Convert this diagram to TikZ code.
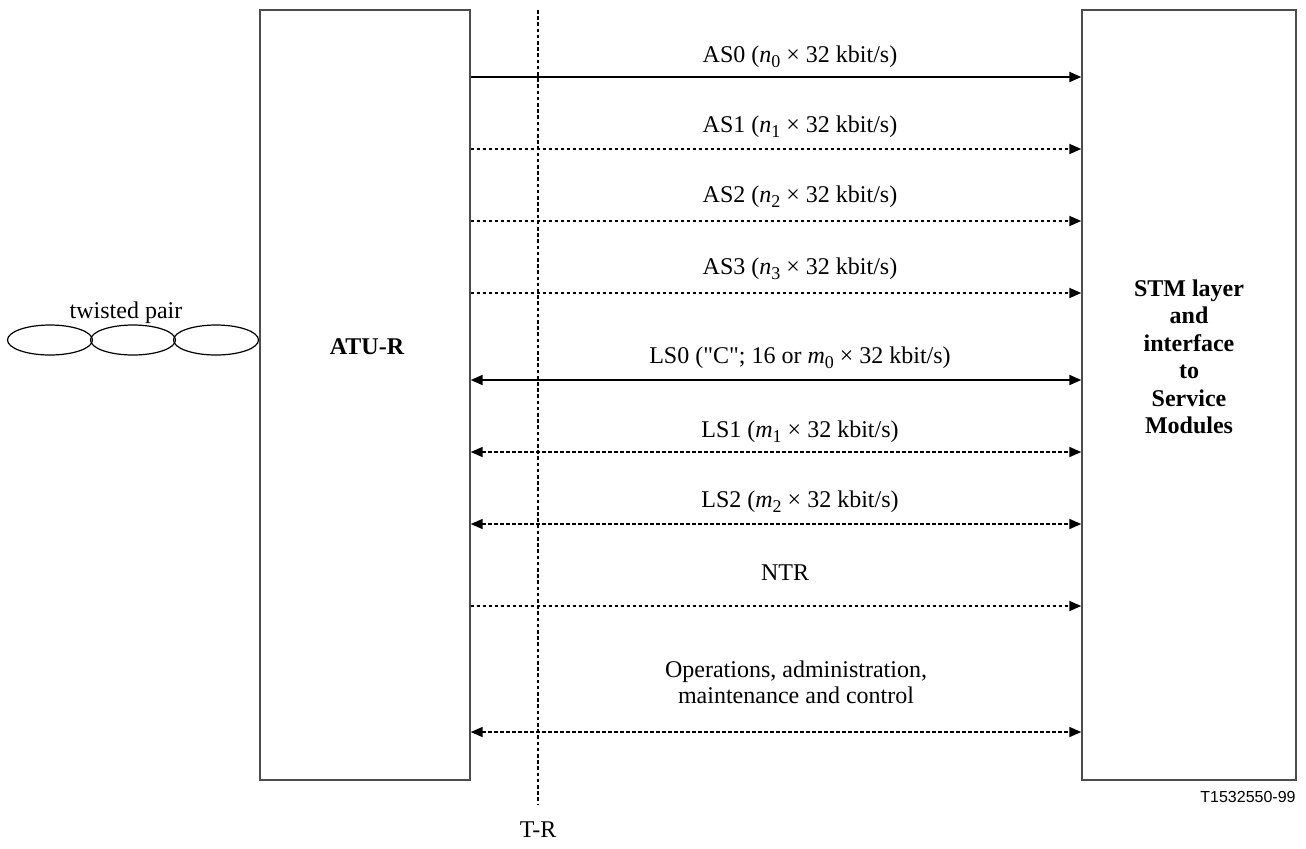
\documentclass[tikz,border=0pt]{standalone}
\usepackage{fontspec}
\setmainfont{Liberation Serif}[Ligatures=TeXOff]
\newfontfamily\figfont{Liberation Sans}
\usetikzlibrary{arrows.meta,shapes.geometric}
\newcommand{\idx}[1]{\raisebox{-0.45ex}{\small #1}}

\begin{document}
\begin{tikzpicture}[x=0.5pt, y=-0.5pt, font=\fontsize{12}{12.8}\selectfont,
  every node/.style={inner sep=0pt},
  box/.style={draw=black!70, line width=0.7pt, minimum height=385pt},
  tip/.style={-{Triangle[length=6pt,width=5pt]}},
  both/.style={{Triangle[length=6pt,width=5pt]}-{Triangle[length=6pt,width=5pt]}},
  sig/.style={line width=1pt},
  dsig/.style={line width=0.8pt, dash pattern=on 1.8pt off 1.2pt},
  lbl/.style={midway, xshift=12pt, text height=8.5pt, text depth=3pt},
  loop/.style={ellipse, draw, line width=0.6pt, minimum width=42.5pt, minimum height=15pt}]
  \useasboundingbox (0,0) rectangle (1306,848);

  % the two units
  \node[box, minimum width=105pt] (atu) at (365,395) {};
  \node[box, minimum width=107pt] (stm) at (1189,395) {};
  \node[font=\fontsize{12}{12.8}\selectfont\bfseries] (atutext) at (367,347) {ATU-R};
  \node[font=\fontsize{12}{13.75}\selectfont\bfseries, align=center] (stmtext) at (1189,357)
    {STM layer\\and\\interface\\to\\Service\\Modules};

  % twisted pair
  \node (tptext) at (126,313) {twisted pair};
  \node[loop] (tp1) at (50,340) {};
  \node[loop] (tp2) at (133,340) {};
  \node[loop] (tp3) at (216,340) {};

  % T-R reference point
  \coordinate (trtop) at (538,10);
  \coordinate (trbot) at (538,805);
  \node (tr) at (538,830) {T-R};
  \draw[line width=0.9pt, dash pattern=on 1.8pt off 1.3pt] (trtop) -- (trbot);

  % heights of the channels
  \foreach \name/\y in {as0/77, as1/149, as2/221, as3/293, ls0/380, ls1/452, ls2/524, ntr/606, oam/732}
    \coordinate (\name) at (776,\y);

  % downstream bearers
  \draw[sig, tip] (atu.east |- as0) -- node[lbl, yshift=10pt] (as0l) {AS0 (\textit{n}\idx{0} × 32 kbit/s)} (stm.west |- as0);
  \draw[dsig, tip] (atu.east |- as1) -- node[lbl, yshift=11pt] (as1l) {AS1 (\textit{n}\idx{1} × 32 kbit/s)} (stm.west |- as1);
  \draw[dsig, tip] (atu.east |- as2) -- node[lbl, yshift=12pt] (as2l) {AS2 (\textit{n}\idx{2} × 32 kbit/s)} (stm.west |- as2);
  \draw[dsig, tip] (atu.east |- as3) -- node[lbl, yshift=12pt] (as3l) {AS3 (\textit{n}\idx{3} × 32 kbit/s)} (stm.west |- as3);

  % duplex bearers
  \draw[sig, both] (atu.east |- ls0) -- node[lbl, yshift=11pt] (ls0l) {LS0 ("C"; 16 or \textit{m}\idx{0} × 32 kbit/s)} (stm.west |- ls0);
  \draw[dsig, both] (atu.east |- ls1) -- node[lbl, yshift=10pt] (ls1l) {LS1 (\textit{m}\idx{1} × 32 kbit/s)} (stm.west |- ls1);
  \draw[dsig, both] (atu.east |- ls2) -- node[lbl, yshift=11pt] (ls2l) {LS2 (\textit{m}\idx{2} × 32 kbit/s)} (stm.west |- ls2);

  % timing and management
  \draw[dsig, tip] (atu.east |- ntr) -- node[lbl, xshift=-7.5pt, yshift=15.5pt] (ntrl) {NTR} (stm.west |- ntr);
  \draw[dsig, both] (atu.east |- oam) -- node[midway, xshift=10pt, yshift=25pt, align=center] (oaml)
    {Operations, administration,\\maintenance and control} (stm.west |- oam);

  % figure number
  \node[anchor=east, font=\figfont\fontsize{8}{9}\selectfont] (fig) at (1296,797) {T1532550-99};
\end{tikzpicture}
\end{document}
